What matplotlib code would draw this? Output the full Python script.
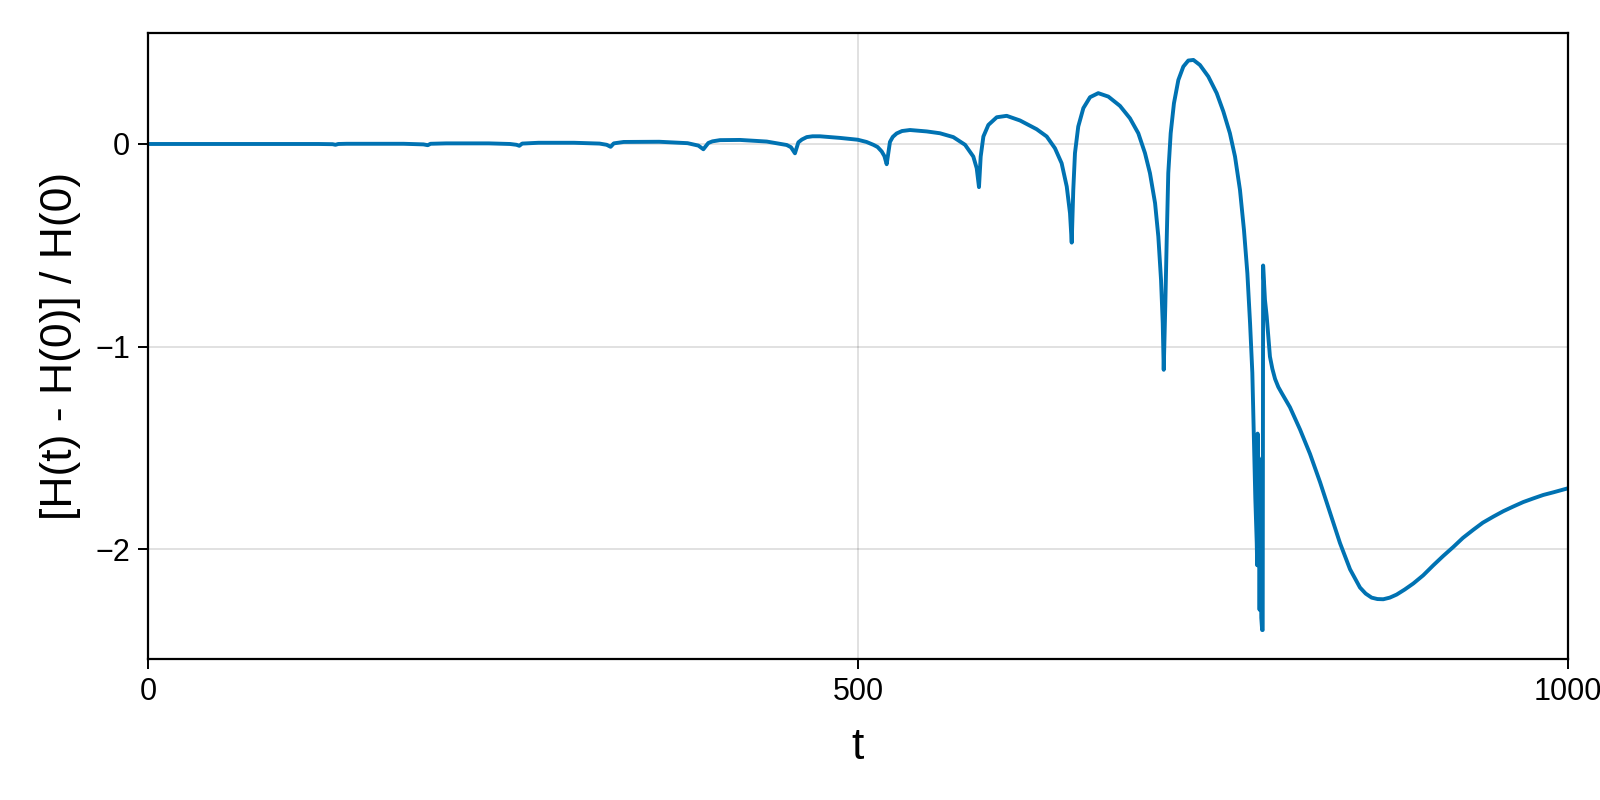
import numpy as np
import matplotlib
matplotlib.use("Agg")
import matplotlib.pyplot as plt

# Dados (t, erro relativo de energia)
t = [0, 60, 120, 130, 132, 134, 140, 180, 194, 197, 199, 210, 240, 255,
     259.5, 261.5, 263.5, 275, 300, 318, 323, 325.8, 328, 335, 360, 380,
     387.6, 391.1, 394.6, 397.5, 402.8, 416.9, 435.7, 449.8, 452.8, 455.6,
     458.0, 460.5, 463.9, 468.0, 473.2, 487.3, 499.8, 506.0, 510.8, 513.8,
     516.7, 518.6, 520.2, 522.5, 524.5, 527.2, 531.0, 536.6, 548.4,
     557.7, 567.1, 575.4, 581.2, 583.6, 585.2, 586.4, 588.3, 591.8, 597.7,
     604.7, 614.1, 625.8, 632.9, 638.7, 643.4, 647.0, 649.3, 650.5, 651.6,
     652.8, 655.1, 658.7, 663.4, 669.2, 676.3, 684.5, 691.5, 697.4, 702.1,
     705.6, 709.2, 711.5, 713.4, 714.6, 715.3, 716.4, 717.4, 718.5, 720.2,
     722.5, 725.6, 729.1, 732.6, 736.2, 740.8, 746.7, 752.6, 757.3, 761.9,
     765.5, 769.0, 771.8, 774.2, 776.1, 777.7, 778.8, 779.8, 780.8, 781.1,
     781.4, 781.7, 782.2, 782.8, 783.3, 784.0, 784.6, 785.0, 785.3, 786.6,
     787.8, 790.1, 791.8, 793.7, 796.0, 798.4, 804.2, 811.3, 818.3, 825.4,
     832.4, 839.4, 846.5, 853.5, 857.5, 861.7, 865.8, 869.9, 874.5, 879.3,
     885.0, 891.1, 898.0, 905.2, 912.0, 919.2, 926.0, 933.3, 940.0, 947.4,
     954.5, 961.5, 968.5, 975.6, 982.6, 989.7, 1000]

dH = [0.0, 0.0, 0.0, -0.001, -0.004, 0.0, 0.001, 0.001, -0.002, -0.006,
      0.001, 0.003, 0.003, 0.0, -0.004, -0.009, 0.002, 0.006, 0.006, 0.002,
      -0.004, -0.014, 0.003, 0.010, 0.011, 0.004, -0.008, -0.026, 0.005,
      0.013, 0.019, 0.020, 0.012, -0.005, -0.016, -0.046, 0.008, 0.022,
      0.034, 0.038, 0.038, 0.030, 0.021, 0.010, -0.004, -0.015,
      -0.037, -0.060, -0.100, 0.010, 0.035, 0.052, 0.064, 0.069, 0.062,
      0.053, 0.034, -0.004, -0.062, -0.12, -0.213, -0.062, 0.037, 0.094,
      0.132, 0.139, 0.116, 0.073, 0.037, -0.021, -0.095, -0.21, -0.342,
      -0.487, -0.227, -0.045, 0.086, 0.177, 0.231, 0.251, 0.234, 0.188,
      0.127, 0.053, -0.045, -0.144, -0.292, -0.457, -0.671, -0.885, -1.115,
      -0.80, -0.473, -0.144, 0.053, 0.201, 0.316, 0.382, 0.412, 0.415, 0.39,
      0.333, 0.251, 0.160, 0.053, -0.062, -0.227, -0.424, -0.638, -0.885,
      -1.13, -1.45, -1.75, -1.97, -2.08, -1.43, -2.08, -1.55, -2.30, -1.75,
      -2.34, -2.40, -2.40, -0.60, -0.77, -0.85, -1.05, -1.11, -1.16, -1.20,
      -1.23, -1.30, -1.41, -1.53, -1.67, -1.82, -1.97, -2.10, -2.19, -2.22,
      -2.24, -2.247, -2.248, -2.24, -2.225, -2.20, -2.17, -2.13, -2.08,
      -2.035, -1.99, -1.945, -1.905, -1.87, -1.84, -1.813, -1.79, -1.768,
      -1.75, -1.733, -1.72, -1.70]

xticks = [0, 500, 1000]
yticks = [-2, -1, 0]

# Fonte parecida com a do Makie
plt.rcParams['font.family'] = ['Liberation Sans', 'DejaVu Sans']

figura = plt.figure(figsize=(16, 8), dpi=100)
ax = figura.add_axes([0.0925, 0.176, 0.8875, 0.783])

# Plot
ax.plot(t, dH, color='#0072b2', linewidth=2.8)

# Limites e ticks
ax.set_xlim(0, 1000)
ax.set_ylim(-2.544, 0.549)
ax.set_xticks(xticks)
ax.set_yticks(yticks)
ax.grid(True, color='black', alpha=0.12, linewidth=1.4)
ax.set_axisbelow(True)

for s in ax.spines.values():
    s.set_linewidth(1.6)

ax.tick_params(direction='out', length=7, width=1.4, labelsize=22, pad=6)

ax.set_xlabel('t', fontsize=32, labelpad=14)
ax.set_ylabel('[H(t) - H(0)] / H(0)', fontsize=32)
ax.yaxis.set_label_coords(-0.047, 0.5)

# Salvar grafico
figura.savefig('out.png', dpi=100)
